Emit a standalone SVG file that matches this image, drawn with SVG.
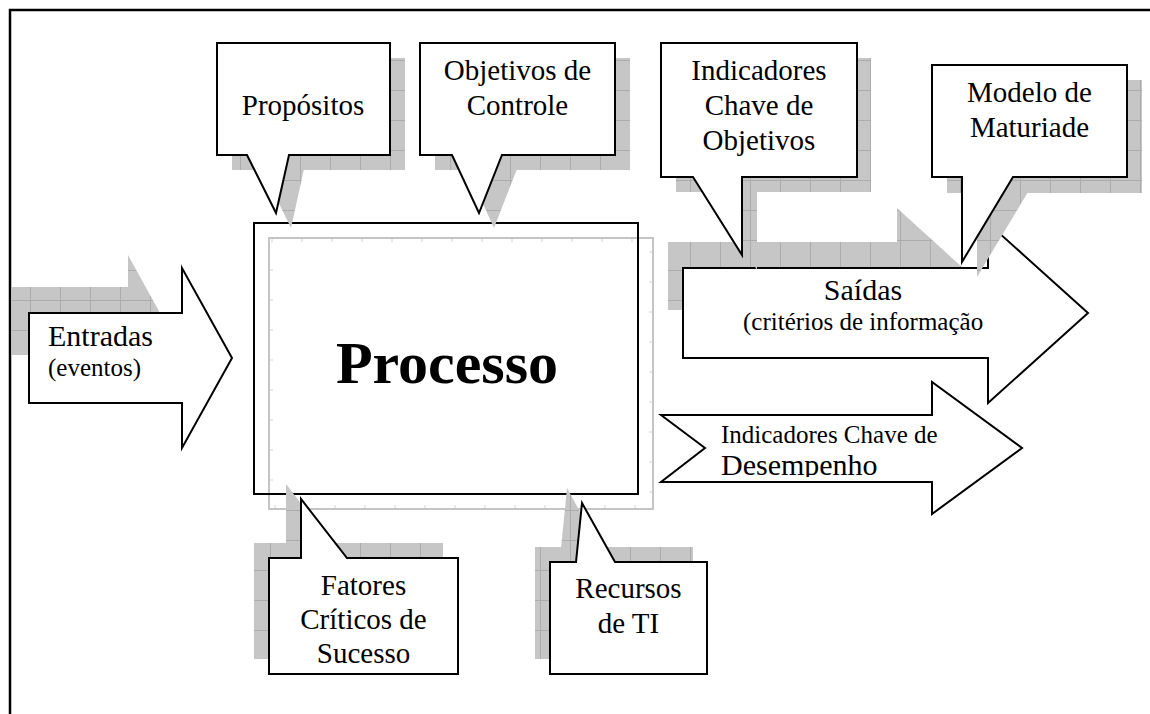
<svg xmlns="http://www.w3.org/2000/svg" width="1150" height="714" viewBox="0 0 1150 714">
<defs>
<pattern id="sh" width="30" height="30" patternUnits="userSpaceOnUse">
<rect width="30" height="30" fill="#c6c6c6"/>
<path d="M0 0.5H30M0.5 0V30" stroke="#acacac" stroke-width="1" fill="none"/>
</pattern>
<clipPath id="kpiClip"><rect x="660" y="380" width="370" height="97"/></clipPath>
<style>
.shadow{fill:url(#sh);stroke:none}
.shape{fill:#fff;stroke:#000;stroke-width:2;stroke-linejoin:miter}
.t{font-family:"Liberation Serif","Times New Roman",serif;fill:#000}
.c{text-anchor:middle}
</style>
</defs>
<rect width="1150" height="714" fill="#fff"/>
<path d="M10 714V10H1150" fill="none" stroke="#000" stroke-width="2.5"/>

<g id="entradas">
<polygon class="shadow" points="12,287 128,287 128,255 160,313 29,313 29,355 12,355"/>
<polygon class="shape" points="29,313 182,313 182,268 232,358 182,448 182,403 29,403"/>
<text class="t" x="48" y="346" font-size="30">Entradas</text>
<text class="t" x="48" y="376" font-size="25">(eventos)</text>
</g>

<g id="saidas">
<polygon class="shadow" points="668,242 897,242 897,208 963,268 683,268 683,310 668,310"/>
<polygon class="shape" points="683,268 988,268 988,223 1088,313 988,403 988,358 683,358"/>
<text class="t c" x="863" y="300" font-size="30">Saídas</text>
<text class="t" x="743" y="330" font-size="25">(critérios de informação</text>
</g>

<g id="kpi">
<polygon class="shape" points="661,415 932,415 932,382 1022,448 932,514 932,482 661,482 705,448"/>
<g clip-path="url(#kpiClip)">
<text class="t" x="721" y="443" font-size="25">Indicadores Chave de</text>
<text class="t" x="721" y="475" font-size="30">Desempenho</text>
</g>
</g>

<g id="processo">
<rect x="269" y="238" width="384" height="271" fill="none" stroke="#c4c4c4" stroke-width="2"/>
<rect x="271.5" y="240.5" width="379" height="266" fill="none" stroke="#d4d4d4" stroke-width="3" stroke-dasharray="1 29"/>
<rect x="254" y="223" width="384" height="271" fill="none" stroke="#000" stroke-width="2"/>
<text class="t c" x="447" y="383" font-size="60" font-weight="bold">Processo</text>
</g>

<g id="propositos">
<rect class="shadow" x="232" y="58" width="173" height="112"/>
<polygon class="shadow" points="262,169 291,228 304,169"/>
<polygon class="shape" points="217,43 390,43 390,155 289,155 276,213 247,155 217,155"/>
<text class="t c" x="303" y="115" font-size="29">Propósitos</text>
</g>

<g id="objetivos">
<rect class="shadow" x="435" y="58" width="195" height="112"/>
<polygon class="shadow" points="467,169 494,228 517,169"/>
<polygon class="shape" points="420,43 615,43 615,155 502,155 479,213 452,155 420,155"/>
<text class="t c" x="517.5" y="80" font-size="29">Objetivos de</text>
<text class="t c" x="517.5" y="115" font-size="29">Controle</text>
</g>

<g id="indicadores-objetivos">
<rect class="shadow" x="676" y="58" width="195" height="134"/>
<polygon class="shadow" points="708,191 757,270 757,191"/>
<polygon class="shape" points="661,43 857,43 857,177 742,177 742,255 693,177 661,177"/>
<text class="t c" x="759" y="80" font-size="29">Indicadores</text>
<text class="t c" x="759" y="115" font-size="29">Chave de</text>
<text class="t c" x="759" y="150" font-size="29">Objetivos</text>
</g>

<g id="maturidade">
<rect class="shadow" x="947" y="80" width="195" height="113"/>
<polygon class="shadow" points="977,192 977,277 1028,192"/>
<polygon class="shape" points="932,65 1127,65 1127,177 1013,177 962,262 962,177 932,177"/>
<text class="t c" x="1029.5" y="102" font-size="29">Modelo de</text>
<text class="t c" x="1029.5" y="137" font-size="29">Maturiade</text>
</g>

<g id="fatores">
<rect class="shadow" x="254" y="543" width="189" height="116"/>
<polygon class="shadow" points="286,544 286,484 332,544"/>
<polygon class="shape" points="269,558 301,558 301,499 347,558 458,558 458,674 269,674"/>
<text class="t c" x="363.5" y="595" font-size="29">Fatores</text>
<text class="t c" x="363.5" y="629" font-size="29">Críticos de</text>
<text class="t c" x="363.5" y="663" font-size="29">Sucesso</text>
</g>

<g id="recursos">
<rect class="shadow" x="535" y="547" width="158" height="112"/>
<polygon class="shadow" points="561,548 567,488 600,548"/>
<polygon class="shape" points="550,562 576,562 582,503 615,562 707,562 707,674 550,674"/>
<text class="t c" x="628.5" y="598" font-size="29">Recursos</text>
<text class="t c" x="628.5" y="633" font-size="29">de TI</text>
</g>

<g id="connectors"></g>
</svg>
